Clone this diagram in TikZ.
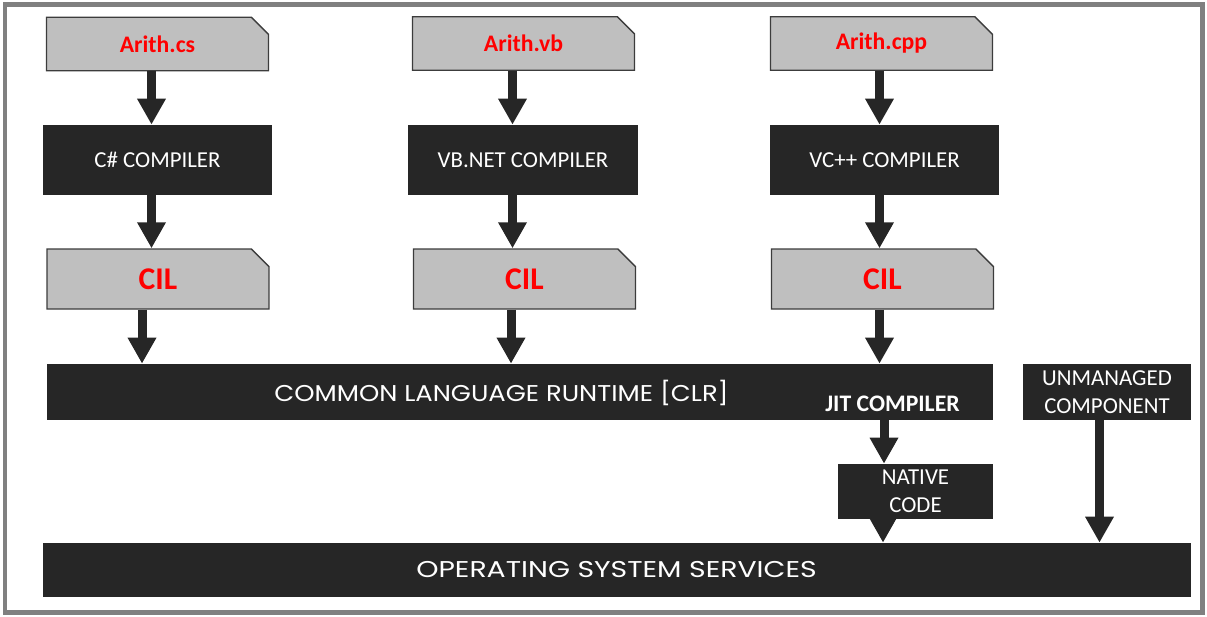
\documentclass[tikz,border=0pt]{standalone}
\usepackage{fontspec}
\setmainfont{Carlito}
\newfontfamily\clrfont[FakeStretch=1.13]{Poppins}
\newfontfamily\osfont[FakeStretch=1.24]{Poppins}
\usetikzlibrary{arrows.meta,shapes.misc}
\definecolor{boxDark}{RGB}{38,38,38}
\definecolor{fileGray}{RGB}{191,191,191}
\definecolor{fileEdge}{RGB}{60,60,60}
\definecolor{frameGray}{RGB}{128,128,128}
\definecolor{fileRed}{RGB}{255,0,0}
\tikzset{
    filebox/.style={chamfered rectangle, chamfered rectangle corners=north east,
        chamfered rectangle xsep=5pt, chamfered rectangle ysep=5pt,
        draw=fileEdge, line width=0.8pt, fill=fileGray, inner sep=0pt,
        minimum width=4.44cm, minimum height=1.07cm, text=fileRed},
    darkbox/.style={fill=boxDark, inner sep=0pt, text=white,
        font=\fontsize{13}{16}\selectfont, align=center},
    bandtext/.style={text=white, inner sep=0pt},
    bigarrow/.style={draw=boxDark, line width=0.18cm,
        -{Triangle[width=0.54cm,length=0.52cm]}}
}
\begin{document}
\begin{tikzpicture}[x=0.02cm,y=-0.02cm]
    \useasboundingbox (0,0) rectangle (1207,616);
    % frame
    \draw[frameGray, line width=2.55pt] (5,4.5) rectangle (1202.5,612.5);

    % source files
    \node[filebox, font=\bfseries\fontsize{13.5}{16}\selectfont] (srccs) at (157.5,44) {Arith.cs};
    \node[filebox, font=\bfseries\fontsize{13.5}{16}\selectfont] (srcvb) at (523.5,43.5) {Arith.vb};
    \node[filebox, font=\bfseries\fontsize{13.5}{16}\selectfont] (srccpp) at (881.5,43.5) {Arith.cpp};

    % compilers
    \node[darkbox, minimum width=4.58cm, minimum height=1.4cm] (compcs) at (157.5,160) {C\# COMPILER};
    \node[darkbox, minimum width=4.6cm, minimum height=1.4cm] (compvb) at (523,160) {VB.NET COMPILER};
    \node[darkbox, minimum width=4.58cm, minimum height=1.4cm] (compcpp) at (884.5,160) {VC++ COMPILER};

    % intermediate code
    \node[filebox, minimum height=1.2cm, font=\bfseries\fontsize{18}{20}\selectfont] (cilcs) at (158,279) {\raisebox{-0.07cm}{CIL}};
    \node[filebox, minimum height=1.2cm, font=\bfseries\fontsize{18}{20}\selectfont] (cilvb) at (524.5,279) {\raisebox{-0.07cm}{CIL}};
    \node[filebox, minimum height=1.2cm, font=\bfseries\fontsize{18}{20}\selectfont] (cilcpp) at (882.5,279) {\raisebox{-0.07cm}{CIL}};

    % runtime and services
    \node[darkbox, minimum width=18.92cm, minimum height=1.12cm] (clr) at (520,392) {};
    \node[bandtext, font=\clrfont\fontsize{13}{15}\selectfont] (clrtext) at (501.5,392.5) {COMMON LANGUAGE RUNTIME [CLR]};
    \node[text=white, inner sep=0pt, font=\bfseries\fontsize{13.5}{16}\selectfont] (jit) at (892.5,403.5) {JIT COMPILER};
    \node[darkbox, minimum width=3.36cm, minimum height=1.12cm] (unmanaged) at (1107,392) {UNMANAGED\\COMPONENT};
    \node[darkbox, minimum width=3.1cm, minimum height=1.1cm] (native) at (915.5,491.5) {NATIVE\\CODE};
    \node[darkbox, minimum width=22.96cm, minimum height=1.08cm] (os) at (617,570) {};
    \node[bandtext, font=\osfont\fontsize{13}{15}\selectfont] (ostext) at (616.5,570) {OPERATING SYSTEM SERVICES};

    % arrows
    \draw[bigarrow] ([xshift=-0.12cm]srccs.south) -- ([xshift=-0.12cm]srccs.south |- compcs.north);
    \draw[bigarrow] ([xshift=-0.22cm]srcvb.south) -- ([xshift=-0.22cm]srcvb.south |- compvb.north);
    \draw[bigarrow] ([xshift=-0.04cm]srccpp.south) -- ([xshift=-0.04cm]srccpp.south |- compcpp.north);
    \draw[bigarrow] ([xshift=-0.12cm]compcs.south) -- ([xshift=-0.12cm]compcs.south |- cilcs.north);
    \draw[bigarrow] ([xshift=-0.21cm]compvb.south) -- ([xshift=-0.21cm]compvb.south |- cilvb.north);
    \draw[bigarrow] ([xshift=-0.1cm]compcpp.south) -- ([xshift=-0.1cm]compcpp.south |- cilcpp.north);
    \draw[bigarrow] ([xshift=-0.32cm]cilcs.south) -- ([xshift=-0.32cm]cilcs.south |- clr.north);
    \draw[bigarrow] ([xshift=-0.27cm]cilvb.south) -- ([xshift=-0.27cm]cilvb.south |- clr.north);
    \draw[bigarrow] ([xshift=-0.06cm]cilcpp.south) -- ([xshift=-0.06cm]cilcpp.south |- clr.north);
    \draw[bigarrow] ([xshift=-0.63cm]native.north |- clr.south) -- ([xshift=-0.63cm]native.north);
    \draw[bigarrow] ([xshift=-0.15cm]unmanaged.south) -- ([xshift=-0.15cm]unmanaged.south |- os.north);
    \draw[bigarrow] ([xshift=-0.65cm]native.south) -- ([xshift=-0.65cm]native.south |- os.north);
\end{tikzpicture}
\end{document}
